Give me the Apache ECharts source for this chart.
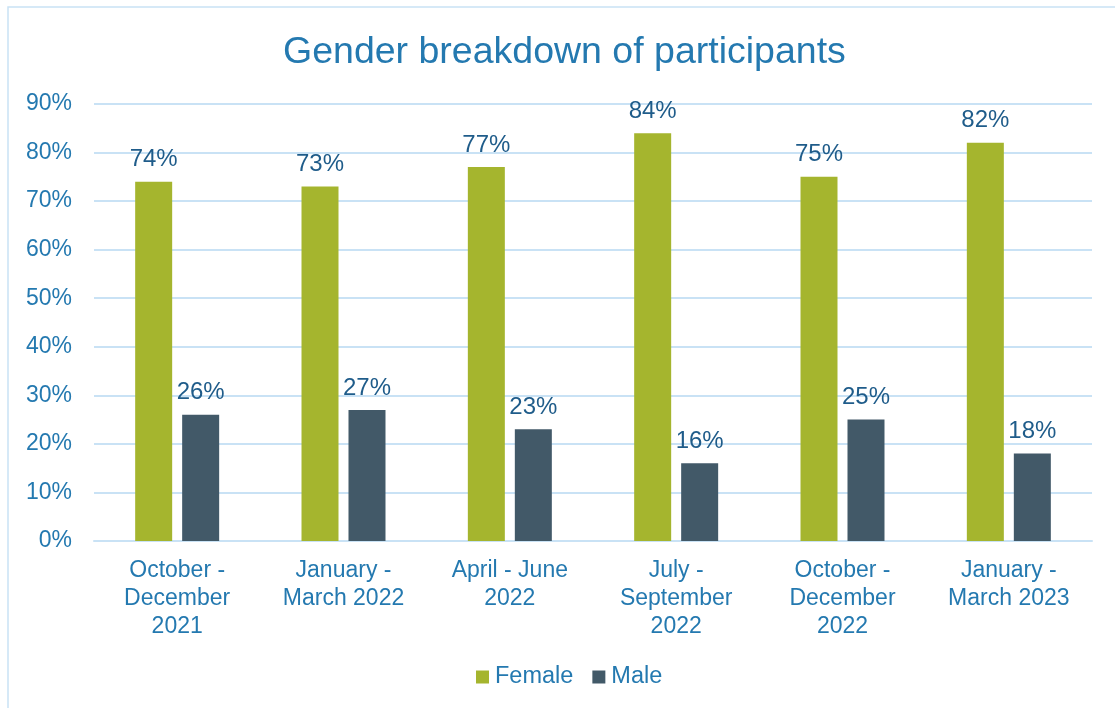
<!DOCTYPE html>
<html><head><meta charset="utf-8">
<script src="https://cdn.jsdelivr.net/npm/echarts@6/dist/echarts.min.js"></script>
<style>html,body{margin:0;padding:0;background:#fff}#c{width:1115px;height:708px}</style>
</head><body><div id="c"></div>
<script>
const categories = ["October -\nDecember\n2021","January -\nMarch 2022","April - June\n2022","July -\nSeptember\n2022","October -\nDecember\n2022","January -\nMarch 2023"];
const female = [74,73,77,84,75,82];
const male = [26,27,23,16,25,18];
const yTicks = [0,10,20,30,40,50,60,70,80,90];

const chart = echarts.init(document.getElementById('c'));
const font = 'Liberation Sans, Arial, sans-serif';
const lbl = {show:true, position:'top', distance:10, formatter:p=>p.value+'%', color:'#1F5C8A', fontSize:24, fontFamily:font};
chart.setOption({
  animation:false,
  graphic:[{type:'rect', shape:{x:8,y:7,width:1130,height:720}, style:{fill:'none', stroke:'#C9E2F5', lineWidth:1.5}, silent:true}],
  title:{text:'Gender breakdown of participants', left:283, top:34, padding:0, textStyle:{color:'#2479B0', fontSize:37.5, fontWeight:'normal', fontFamily:font}},
  legend:{bottom:19, left:476, padding:0, itemWidth:13, itemHeight:13, itemGap:19, icon:'rect', textStyle:{color:'#2479B0', fontSize:23.5, fontFamily:font, padding:[0,0,0,1]}, data:['Female','Male']},
  grid:{left:94, right:23, top:104, bottom:167, containLabel:false},
  xAxis:{type:'category', data:categories, axisLine:{lineStyle:{color:'#C9E2F5', width:2}}, axisTick:{show:false},
    axisLabel:{color:'#2479B0', fontSize:23, fontFamily:font, lineHeight:28, margin:16, interval:0}},
  yAxis:{type:'value', min:0, max:90, interval:10, axisLine:{show:false}, axisTick:{show:false},
    splitLine:{lineStyle:{color:'#C9E2F5', width:2}},
    axisLabel:{color:'#2479B0', fontSize:23, fontFamily:font, formatter:v=>v+'%', margin:22}},
  series:[
    {name:'Female', type:'bar', data:female, itemStyle:{color:'#A5B52E'}, barWidth:37, barGap:'27%', label:lbl},
    {name:'Male', type:'bar', data:male, itemStyle:{color:'#425968'}, barWidth:37, label:lbl}
  ]
});
</script></body></html>
